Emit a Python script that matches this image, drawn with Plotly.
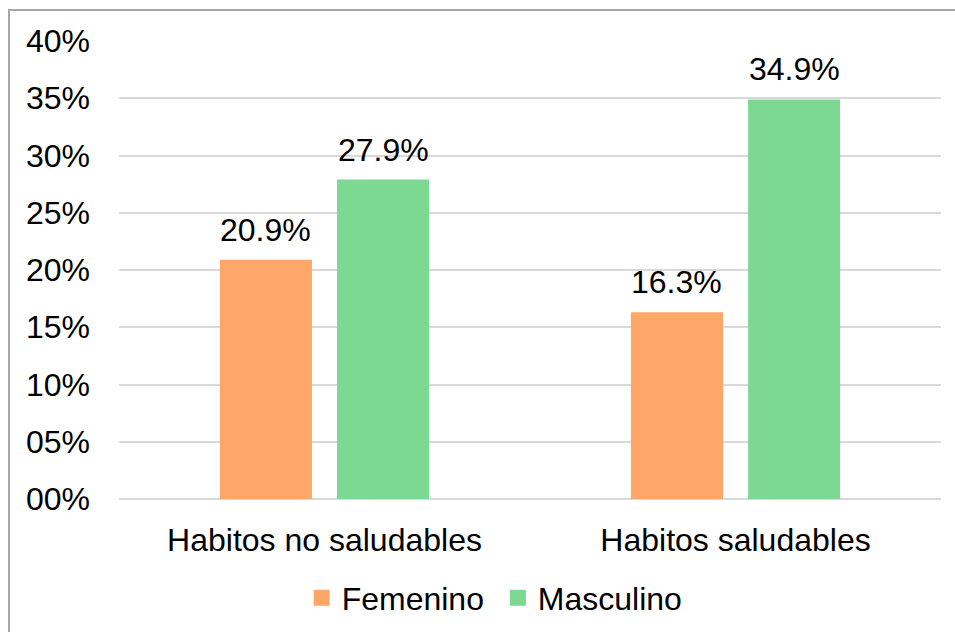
import plotly.graph_objects as go

categories = ["Habitos no saludables", "Habitos saludables"]
femenino = [0.209, 0.163]
masculino = [0.279, 0.349]
tick_vals = [0, 0.05, 0.10, 0.15, 0.20, 0.25, 0.30, 0.35, 0.40]
tick_text = ["00%", "05%", "10%", "15%", "20%", "25%", "30%", "35%", "40%"]

FONT = "Liberation Sans, Arial, sans-serif"
FS = 32
C_FEM = "#FFA768"
C_MAS = "#7DD892"

# plot area geometry (px)
L, R, T, B = 119, 14, 41, 133
W, H = 955, 632
PW, PH = W - L - R, H - T - B

BARGAP, GROUPGAP = 0.43, 0.214
slot_px = PW / len(categories) * (1 - BARGAP) / 2

fig = go.Figure()
annotations = []
for i, (name, vals, col) in enumerate([("Femenino", femenino, C_FEM), ("Masculino", masculino, C_MAS)]):
    fig.add_trace(go.Bar(
        x=categories, y=vals, name=name, marker=dict(color=col, line=dict(width=0)),
        showlegend=False, hoverinfo="x+y",
    ))
    # legend entry with a larger square swatch
    fig.add_trace(go.Scatter(
        x=[None], y=[None], mode="markers",
        name=name + ("\u00a0" if i == 0 else ""),
        marker=dict(symbol="square", size=16, color=col),
    ))
    # value labels above each bar
    offset = (i - 0.5) * slot_px
    for c, v in zip(categories, vals):
        annotations.append(dict(
            x=c, y=v, xref="x", yref="y", text=f"{v * 100:.1f}%", showarrow=False,
            xshift=offset, yshift=10, yanchor="bottom", xanchor="center",
            font=dict(size=FS, family=FONT, color="#000000"),
        ))

fig.update_layout(
    width=W, height=H,
    margin=dict(l=L, r=R, t=T, b=B, autoexpand=False),
    paper_bgcolor="white", plot_bgcolor="white",
    barmode="group", bargap=BARGAP, bargroupgap=GROUPGAP,
    font=dict(family=FONT, size=FS, color="#000000"),
    showlegend=True,
    legend=dict(orientation="h", x=0.457, xanchor="center", y=(499 - 598) / PH, yanchor="middle",
                font=dict(size=FS, family=FONT), itemwidth=30, traceorder="normal"),
    xaxis=dict(showgrid=False, showline=False, ticks="", ticklabelstandoff=19,
               tickfont=dict(size=FS, family=FONT)),
    yaxis=dict(range=[0, 0.40], tickvals=tick_vals, ticktext=tick_text,
               showgrid=True, gridcolor="#D9D9D9", gridwidth=1.5,
               zeroline=True, zerolinecolor="#D9D9D9", zerolinewidth=1.5,
               showline=False, ticks="", ticklabelstandoff=28,
               tickfont=dict(size=FS, family=FONT)),
    annotations=annotations,
    shapes=[dict(type="rect", xref="paper", yref="paper",
                 x0=(9 - L) / PW, x1=(965 - L) / PW,
                 y0=-(650 - (H - B)) / PH, y1=((H - B) - 10) / PH,
                 line=dict(color="#A6A6A6", width=2), fillcolor="rgba(0,0,0,0)", layer="below")],
)

fig.write_html("out.html")
